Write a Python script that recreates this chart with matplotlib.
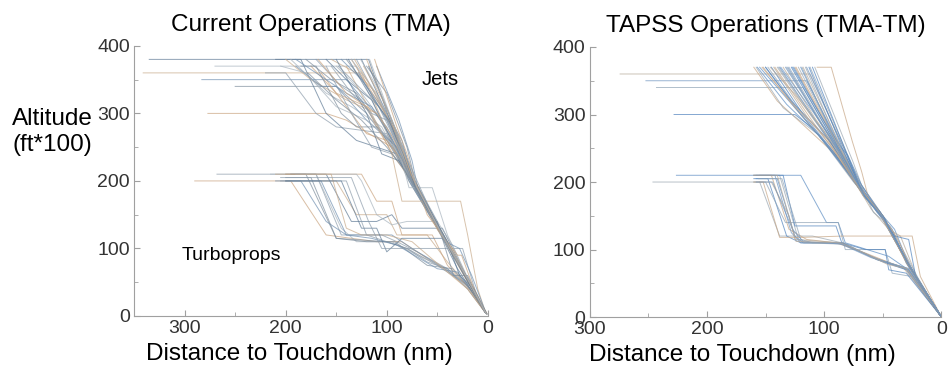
import matplotlib.pyplot as plt
from matplotlib.ticker import MultipleLocator

plt.rcParams['font.family'] = ['Liberation Sans', 'DejaVu Sans']

# trajectories: (distance to touchdown nm, altitude ft*100) breakpoints

# current operations, jets
cur_jets = [
    [(335, 380), (118, 380), (75, 195), (45, 118), (20, 52), (2, 5)],
    [(341, 360), (125, 360), (78, 200), (47, 122), (22, 55), (3, 6)],
    [(270, 370), (130, 370), (80, 205), (48, 125), (20, 55), (2, 4)],
    [(283, 350), (140, 350), (100, 280), (75, 195), (45, 120), (18, 50), (1, 3)],
    [(250, 340), (150, 340), (120, 300), (85, 230), (70, 185), (42, 110), (18, 48), (2, 4)],
    [(277, 300), (160, 300), (140, 290), (95, 250), (72, 190), (45, 120), (20, 55), (2, 4)],
    [(220, 360), (200, 360), (170, 300), (150, 280), (100, 270), (80, 210), (45, 120), (15, 40), (1, 3)],
    [(210, 380), (185, 380), (160, 300), (130, 260), (90, 240), (72, 190), (44, 118), (19, 52), (2, 4)],
    [(200, 380), (175, 350), (140, 320), (110, 300), (80, 220), (48, 125), (20, 55), (1, 4)],
    [(195, 380), (160, 330), (135, 310), (105, 280), (75, 195), (45, 120), (22, 58), (2, 5)],
    [(190, 370), (165, 340), (150, 340), (120, 290), (90, 250), (78, 200), (50, 130), (20, 55), (2, 4)],
    [(180, 380), (155, 350), (130, 330), (100, 260), (70, 185), (46, 122), (21, 55), (1, 3)],
    [(175, 370), (150, 330), (120, 310), (110, 280), (90, 230), (70, 190), (40, 110), (18, 48), (2, 4)],
    [(170, 380), (145, 340), (125, 320), (90, 240), (75, 200), (45, 115), (20, 52), (2, 5)],
    [(160, 380), (140, 350), (115, 320), (95, 260), (72, 190), (45, 120), (20, 55), (2, 4)],
    [(155, 380), (130, 360), (110, 330), (85, 240), (70, 185), (44, 118), (20, 52), (2, 4)],
    [(150, 370), (130, 340), (105, 290), (88, 250), (76, 210), (46, 125), (20, 55), (1, 3)],
    [(145, 380), (125, 350), (100, 300), (85, 260), (73, 195), (45, 120), (22, 58), (2, 5)],
    [(140, 380), (120, 340), (95, 280), (80, 230), (70, 185), (44, 118), (20, 52), (2, 4)],
    [(135, 380), (110, 320), (90, 270), (75, 205), (45, 120), (21, 55), (2, 4)],
    [(130, 380), (105, 310), (85, 250), (72, 190), (46, 122), (20, 54), (1, 3)],
    [(125, 380), (100, 300), (82, 240), (70, 185), (42, 112), (18, 48), (2, 4)],
    [(120, 380), (95, 290), (78, 220), (72, 190), (45, 120), (22, 58), (2, 5)],
    [(117, 380), (90, 270), (74, 200), (45, 118), (20, 52), (2, 4)],
    [(128, 360), (100, 290), (75, 200), (46, 122), (20, 54), (2, 4)],
    [(185, 370), (170, 370), (145, 300), (130, 280), (110, 280), (90, 250), (80, 215), (45, 120), (19, 52), (2, 4)],
    [(165, 360), (140, 310), (120, 270), (100, 260), (85, 230), (75, 200), (44, 118), (20, 54), (1, 3)],
    [(160, 370), (135, 300), (115, 250), (95, 240), (80, 215), (72, 190), (46, 122), (21, 55), (2, 4)],
    [(150, 380), (120, 300), (105, 240), (88, 230), (78, 205), (48, 126), (20, 55), (2, 4)],
    [(140, 370), (115, 300), (95, 240), (85, 170), (27, 170), (20, 120), (10, 40), (2, 4)],
    [(135, 380), (115, 340), (100, 300), (85, 230), (78, 190), (55, 190), (40, 120), (20, 55), (2, 4)],
    [(110, 370), (88, 290), (75, 230), (68, 180), (42, 110), (28, 100), (16, 60), (2, 5)],
    [(120, 370), (100, 330), (80, 250), (72, 200), (50, 140), (34, 60), (20, 60), (10, 30), (2, 4)],
    [(112, 380), (90, 280), (80, 240), (72, 200), (60, 150), (45, 120), (30, 90), (26, 90), (15, 45), (2, 4)],
    [(155, 370), (135, 330), (115, 300), (100, 290), (90, 260), (85, 250), (70, 200), (55, 150), (20, 55), (2, 4)],
    [(118, 370), (98, 300), (84, 250), (74, 205), (62, 170), (40, 110), (28, 60), (14, 40), (2, 4)],
    [(132, 380), (112, 330), (94, 280), (80, 225), (70, 190), (50, 128), (36, 100), (18, 50), (2, 4)],
    [(205, 370), (180, 360), (150, 310), (120, 290), (95, 260), (78, 205), (45, 120), (20, 54), (2, 4)],
    [(190, 380), (170, 360), (140, 330), (115, 310), (92, 255), (74, 198), (46, 122), (20, 55), (2, 4)],
    [(178, 360), (150, 320), (125, 290), (100, 250), (82, 215), (72, 190), (44, 118), (21, 55), (2, 4)],
    [(168, 380), (140, 330), (110, 300), (96, 270), (80, 220), (70, 187), (45, 120), (20, 54), (2, 4)],
    [(148, 370), (128, 340), (108, 310), (90, 255), (76, 205), (46, 122), (20, 55), (2, 4)],
    [(138, 380), (118, 330), (98, 290), (84, 240), (72, 192), (44, 118), (22, 57), (2, 4)],
    [(123, 370), (104, 320), (88, 265), (76, 210), (47, 124), (20, 54), (2, 4)],
    [(126, 380), (106, 330), (92, 280), (78, 225), (70, 190), (45, 120), (20, 55), (2, 4)],
]

# current operations, turboprops
cur_props = [
    [(268, 210), (170, 210), (145, 120), (105, 120), (90, 110), (70, 95), (40, 70), (20, 45), (2, 4)],
    [(290, 200), (195, 200), (160, 120), (110, 110), (85, 110), (60, 85), (42, 70), (20, 40), (2, 4)],
    [(200, 210), (180, 210), (150, 115), (100, 110), (80, 100), (50, 75), (20, 45), (1, 3)],
    [(210, 200), (185, 200), (160, 140), (140, 120), (95, 120), (75, 100), (45, 72), (22, 48), (2, 4)],
    [(215, 210), (170, 210), (145, 130), (130, 110), (95, 110), (70, 90), (40, 70), (18, 40), (2, 4)],
    [(200, 200), (150, 200), (130, 150), (100, 150), (90, 120), (60, 120), (40, 80), (20, 45), (2, 4)],
    [(195, 210), (160, 210), (135, 140), (110, 140), (95, 150), (85, 130), (45, 130), (35, 100), (15, 40), (2, 4)],
    [(205, 200), (140, 200), (120, 120), (100, 110), (80, 100), (60, 80), (40, 70), (20, 40), (2, 4)],
    [(200, 210), (125, 210), (110, 170), (95, 170), (85, 120), (55, 120), (40, 75), (18, 40), (2, 4)],
    [(200, 205), (175, 205), (150, 115), (120, 110), (92, 110), (60, 75), (35, 70), (15, 35), (2, 4)],
    [(200, 200), (165, 200), (140, 120), (115, 115), (90, 105), (50, 70), (30, 65), (15, 35), (2, 4)],
    [(190, 210), (130, 210), (125, 200), (110, 150), (95, 135), (80, 140), (50, 140), (35, 105), (18, 50), (2, 4)],
    [(210, 210), (155, 210), (140, 130), (125, 120), (100, 120), (75, 110), (40, 65), (20, 40), (2, 4)],
    [(200, 200), (145, 200), (125, 130), (110, 130), (100, 95), (85, 115), (45, 115), (30, 70), (15, 35), (2, 4)],
    [(205, 205), (135, 205), (118, 140), (105, 100), (40, 100), (25, 100), (12, 35), (2, 4)],
]

# TAPSS operations, jets
tap_jets = [
    [(274, 360), (112, 360), (70, 200), (50, 150), (27, 75), (0, 0)],
    [(252, 350), (115, 350), (72, 205), (52, 155), (28, 78), (0, 0)],
    [(243, 340), (118, 340), (75, 210), (52, 150), (27, 74), (0, 0)],
    [(228, 300), (125, 300), (110, 280), (70, 195), (50, 148), (27, 74), (0, 0)],
    [(160, 370), (140, 320), (115, 280), (90, 240), (68, 185), (50, 148), (27, 74), (0, 0)],
    [(158, 370), (135, 310), (105, 270), (75, 200), (52, 155), (28, 78), (0, 0)],
    [(155, 370), (130, 320), (100, 260), (70, 190), (50, 148), (26, 72), (0, 0)],
    [(152, 370), (125, 310), (95, 250), (68, 185), (48, 145), (27, 74), (0, 0)],
    [(150, 370), (120, 300), (90, 240), (67, 183), (50, 150), (25, 70), (0, 0)],
    [(148, 370), (115, 290), (88, 235), (70, 190), (52, 152), (28, 76), (0, 0)],
    [(145, 370), (118, 300), (92, 245), (68, 185), (50, 145), (27, 74), (0, 0)],
    [(142, 370), (110, 290), (85, 230), (67, 183), (49, 148), (26, 72), (0, 0)],
    [(140, 370), (112, 300), (86, 238), (69, 188), (51, 150), (28, 75), (0, 0)],
    [(138, 370), (105, 285), (80, 220), (66, 180), (50, 148), (27, 74), (0, 0)],
    [(135, 370), (108, 295), (84, 235), (68, 185), (48, 143), (26, 73), (0, 0)],
    [(133, 370), (100, 280), (78, 215), (67, 183), (50, 150), (27, 74), (0, 0)],
    [(130, 370), (98, 275), (76, 210), (65, 178), (49, 146), (25, 70), (0, 0)],
    [(128, 370), (95, 270), (75, 205), (66, 182), (50, 148), (28, 77), (0, 0)],
    [(125, 370), (92, 265), (74, 200), (67, 180), (52, 152), (27, 74), (0, 0)],
    [(122, 370), (90, 262), (72, 197), (66, 178), (50, 147), (26, 72), (0, 0)],
    [(120, 370), (88, 255), (70, 190), (64, 175), (49, 145), (27, 74), (0, 0)],
    [(118, 370), (85, 250), (70, 192), (67, 183), (51, 150), (28, 76), (0, 0)],
    [(115, 370), (82, 245), (68, 185), (65, 178), (50, 148), (26, 73), (0, 0)],
    [(112, 370), (80, 240), (67, 183), (50, 150), (27, 74), (0, 0)],
    [(110, 370), (78, 230), (66, 180), (49, 146), (25, 70), (0, 0)],
    [(106, 370), (94, 370), (76, 260), (68, 215), (62, 175), (50, 150), (30, 80), (0, 0)],
    [(108, 370), (75, 228), (64, 175), (48, 143), (27, 74), (0, 0)],
    [(127, 370), (100, 290), (85, 250), (80, 240), (68, 195), (55, 160), (40, 130), (27, 74), (0, 0)],
    [(146, 370), (125, 330), (100, 275), (72, 195), (60, 160), (45, 130), (35, 120), (20, 55), (0, 0)],
    [(137, 370), (110, 305), (82, 235), (70, 195), (55, 155), (42, 130), (30, 80), (0, 0)],
    [(132, 370), (102, 285), (80, 230), (66, 185), (58, 155), (44, 135), (20, 58), (0, 0)],
    [(150, 370), (128, 320), (95, 260), (72, 196), (52, 155), (40, 120), (28, 115), (22, 60), (0, 0)],
    [(124, 370), (96, 280), (79, 225), (68, 188), (54, 158), (38, 118), (26, 72), (0, 0)],
    [(116, 370), (89, 262), (73, 205), (65, 180), (47, 140), (30, 82), (0, 0)],
    [(157, 370), (132, 315), (104, 268), (78, 210), (66, 182), (50, 148), (27, 74), (0, 0)],
    [(143, 370), (114, 295), (88, 240), (70, 192), (51, 150), (27, 74), (0, 0)],
    [(131, 370), (102, 284), (80, 225), (67, 183), (50, 147), (26, 72), (0, 0)],
    [(119, 370), (91, 262), (74, 202), (66, 181), (50, 148), (27, 74), (0, 0)],
    [(113, 370), (84, 248), (70, 195), (64, 176), (49, 146), (27, 74), (0, 0)],
    [(153, 370), (128, 318), (98, 265), (76, 205), (52, 152), (28, 76), (0, 0)],
    [(139, 370), (108, 292), (84, 236), (68, 186), (50, 148), (26, 72), (0, 0)],
    [(126, 370), (97, 280), (77, 215), (66, 181), (49, 145), (27, 74), (0, 0)],
]

# TAPSS operations, turboprops
tap_props = [
    [(226, 210), (120, 210), (98, 140), (88, 140), (82, 110), (45, 90), (30, 72), (15, 35), (0, 0)],
    [(246, 200), (155, 200), (138, 120), (110, 120), (85, 110), (60, 90), (30, 72), (0, 0)],
    [(160, 210), (145, 210), (130, 130), (115, 115), (90, 110), (65, 95), (32, 72), (0, 0)],
    [(160, 205), (148, 205), (132, 120), (120, 110), (85, 110), (55, 85), (30, 70), (0, 0)],
    [(160, 200), (150, 200), (133, 140), (88, 140), (82, 100), (48, 100), (42, 65), (25, 60), (0, 0)],
    [(158, 210), (142, 210), (128, 125), (120, 110), (88, 110), (60, 88), (28, 72), (0, 0)],
    [(155, 200), (145, 200), (130, 150), (125, 115), (85, 110), (58, 88), (30, 72), (0, 0)],
    [(158, 205), (140, 205), (125, 120), (118, 110), (86, 110), (50, 82), (28, 70), (0, 0)],
    [(155, 210), (138, 210), (122, 115), (117, 110), (84, 108), (55, 86), (30, 72), (0, 0)],
    [(160, 200), (152, 200), (138, 118), (120, 118), (84, 120), (25, 120), (18, 60), (0, 0)],
    [(160, 210), (135, 210), (125, 135), (90, 135), (85, 110), (65, 100), (48, 100), (45, 70), (30, 65), (0, 0)],
    [(156, 205), (136, 205), (120, 115), (110, 110), (83, 110), (55, 85), (45, 80), (29, 72), (0, 0)],
    [(158, 200), (144, 200), (127, 130), (118, 112), (84, 108), (52, 84), (28, 70), (0, 0)],
    [(160, 210), (140, 210), (124, 112), (86, 110), (62, 92), (46, 78), (30, 72), (0, 0)],
]

cur_colors = ['#8c9cab', '#c9a37f', '#7d8d9c', '#6f8fb0', '#a7b3bd', '#c8aa8a', '#5f7a95']
tap_colors = ['#5b8cc2', '#9aa6b0', '#c6a584', '#4f82bd', '#8fa3b5', '#6d93bf', '#b5a898']

fig = plt.figure(figsize=(9.51, 3.67), dpi=100)
ax1 = fig.add_axes([0.141, 0.139, 0.372, 0.736])
ax2 = fig.add_axes([0.620, 0.136, 0.370, 0.736])


def draw(ax, tracks, colors):
    for i, tr in enumerate(tracks):
        xs = [p[0] for p in tr]
        ys = [p[1] for p in tr]
        ax.plot(xs, ys, color=colors[i % len(colors)], lw=0.7, alpha=0.7)


def style(ax, xmax):
    ax.set_xlim(xmax, 0)
    ax.set_ylim(0, 400)
    for s in ['top', 'right']:
        ax.spines[s].set_visible(False)
    for s in ['left', 'bottom']:
        ax.spines[s].set_color('#a0a0a0')
    ax.xaxis.set_major_locator(MultipleLocator(100))
    ax.xaxis.set_minor_locator(MultipleLocator(50))
    ax.yaxis.set_major_locator(MultipleLocator(100))
    ax.yaxis.set_minor_locator(MultipleLocator(50))
    ax.tick_params(which='both', direction='in', color='#a0a0a0',
                   labelsize=14, labelcolor='#333333')
    ax.tick_params(which='major', length=4, pad=3)
    ax.tick_params(which='minor', length=3)


draw(ax1, cur_props, cur_colors)
draw(ax1, cur_jets, cur_colors[::-1])
draw(ax2, tap_props, tap_colors)
draw(ax2, tap_jets, tap_colors[::-1])

style(ax1, 350)
style(ax2, 300)

ax1.set_title('Current Operations (TMA)', fontsize=17.5, pad=11)
ax2.set_title('TAPSS Operations (TMA-TM)', fontsize=17.5, pad=11)
ax1.set_xlabel('Distance to Touchdown (nm)', fontsize=17.5)
ax2.set_xlabel('Distance to Touchdown (nm)', fontsize=17.5)
ax1.xaxis.set_label_coords(0.466, -0.10)
ax2.xaxis.set_label_coords(0.433, -0.10)

fig.text(0.055, 0.64, 'Altitude\n(ft*100)', fontsize=17.5, ha='center', va='center',
         linespacing=1.25)
ax1.text(47, 350, 'Jets', fontsize=14.5, ha='center', va='center')
ax1.text(254, 89, 'Turboprops', fontsize=14, ha='center', va='center')

fig.savefig('out.png', dpi=100)
